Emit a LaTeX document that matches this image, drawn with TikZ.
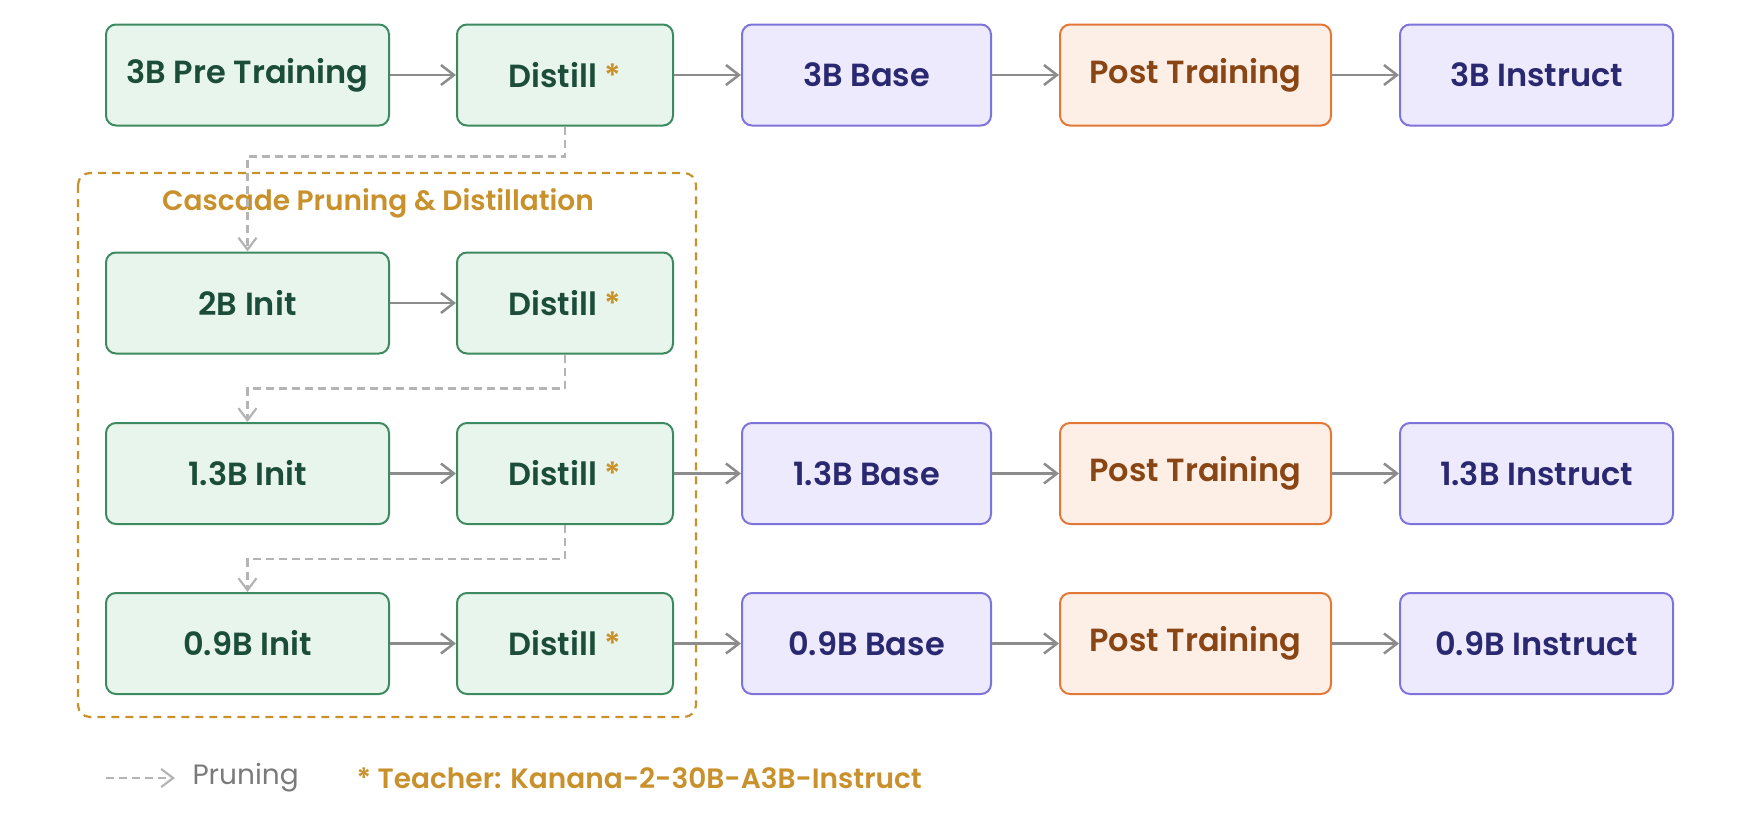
\documentclass[tikz,border=0pt]{standalone}
\usepackage{fontspec}
\setmainfont{Poppins}[BoldFont={Poppins SemiBold}]
\usepackage{xcolor}
\usetikzlibrary{arrows.meta}

\definecolor{greenfill}{HTML}{E8F5EC}
\definecolor{greenline}{HTML}{3E8A60}
\definecolor{greentext}{HTML}{1C4D3A}
\definecolor{purplefill}{HTML}{ECEAFC}
\definecolor{purpleline}{HTML}{7D73DA}
\definecolor{purpletext}{HTML}{2A2870}
\definecolor{orangefill}{HTML}{FDEFE5}
\definecolor{orangeline}{HTML}{E27838}
\definecolor{orangetext}{HTML}{8A4515}
\definecolor{gold}{HTML}{C9912C}
\definecolor{arrowgray}{HTML}{8C8C8C}
\definecolor{prunegray}{HTML}{B4B4B4}
\definecolor{legendgray}{HTML}{7A7A7A}

\begin{document}
\begin{tikzpicture}[
        x=1pt, y=-1pt,
        box/.style={rounded corners=10pt, line width=2pt, minimum height=101pt, inner sep=0pt,
            font=\fontsize{32}{38}\selectfont\bfseries},
        train/.style={box, draw=greenline, fill=greenfill, text=greentext},
        base/.style={box, draw=purpleline, fill=purplefill, text=purpletext},
        post/.style={box, draw=orangeline, fill=orangefill, text=orangetext},
        flow/.style={draw=arrowgray, line width=2.5pt, -{Straight Barb[length=13pt,width=20pt]}},
        prune/.style={draw=prunegray, line width=2.2pt, dash pattern=on 8pt off 5pt,
            -{Straight Barb[length=12pt,width=18pt]}},
        cascade/.style={draw=gold, line width=2.2pt, dash pattern=on 8pt off 6pt, rounded corners=12pt},
    ]
        \useasboundingbox (0,0) rectangle (1744,814);

        \node[train, minimum width=283pt] (pre) at (247.5,75) {3B Pre Training};
        \node[train, minimum width=216pt] (dist3) at (565,75) {Distill \textcolor{gold}{*}};
        \node[base, minimum width=249pt] (base3) at (866.5,75) {3B Base};
        \node[post, minimum width=271pt] (post3) at (1195.5,75) {Post Training};
        \node[base, minimum width=273pt] (inst3) at (1536.5,75) {3B Instruct};

        \node[train, minimum width=283pt] (init2) at (247.5,303) {2B Init};
        \node[train, minimum width=216pt] (dist2) at (565,303) {Distill \textcolor{gold}{*}};

        \node[train, minimum width=283pt] (init13) at (247.5,473.5) {1.3B Init};
        \node[train, minimum width=216pt] (dist13) at (565,473.5) {Distill \textcolor{gold}{*}};
        \node[base, minimum width=249pt] (base13) at (866.5,473.5) {1.3B Base};
        \node[post, minimum width=271pt] (post13) at (1195.5,473.5) {Post Training};
        \node[base, minimum width=273pt] (inst13) at (1536.5,473.5) {1.3B Instruct};

        \node[train, minimum width=283pt] (init09) at (247.5,643.5) {0.9B Init};
        \node[train, minimum width=216pt] (dist09) at (565,643.5) {Distill \textcolor{gold}{*}};
        \node[base, minimum width=249pt] (base09) at (866.5,643.5) {0.9B Base};
        \node[post, minimum width=271pt] (post09) at (1195.5,643.5) {Post Training};
        \node[base, minimum width=273pt] (inst09) at (1536.5,643.5) {0.9B Instruct};

        \draw[cascade] (78,173) rectangle (696,717);
        \node[text=gold, font=\fontsize{28}{34}\selectfont\bfseries] (cascadetitle) at (378,203) {Cascade Pruning \& Distillation};

        \draw[flow] (pre) -- (dist3);
        \draw[flow] (dist3) -- (base3);
        \draw[flow] (base3) -- (post3);
        \draw[flow] (post3) -- (inst3);
        \draw[flow] (init2) -- (dist2);
        \draw[flow] (init13) -- (dist13);
        \draw[flow] (dist13) -- (base13);
        \draw[flow] (base13) -- (post13);
        \draw[flow] (post13) -- (inst13);
        \draw[flow] (init09) -- (dist09);
        \draw[flow] (dist09) -- (base09);
        \draw[flow] (base09) -- (post09);
        \draw[flow] (post09) -- (inst09);

        \draw[prune] (dist3.south) -- ++(0,30) -| (init2.north);
        \draw[prune] (dist2.south) -- ++(0,34) -| (init13.north);
        \draw[prune] (dist13.south) -- ++(0,34) -| (init09.north);

        \coordinate (legendstart) at (106,778);
        \coordinate (legendend) at (175,778);
        \draw[prune] (legendstart) -- (legendend);
        \node[anchor=west, text=legendgray, font=\fontsize{28}{34}\selectfont] (prunelabel) at (189,778) {Pruning};
        \node[anchor=west, text=gold, font=\fontsize{28}{34}\selectfont\bfseries] (teacher) at (353,778) {* Teacher: Kanana-2-30B-A3B-Instruct};
    \end{tikzpicture}
\end{document}
